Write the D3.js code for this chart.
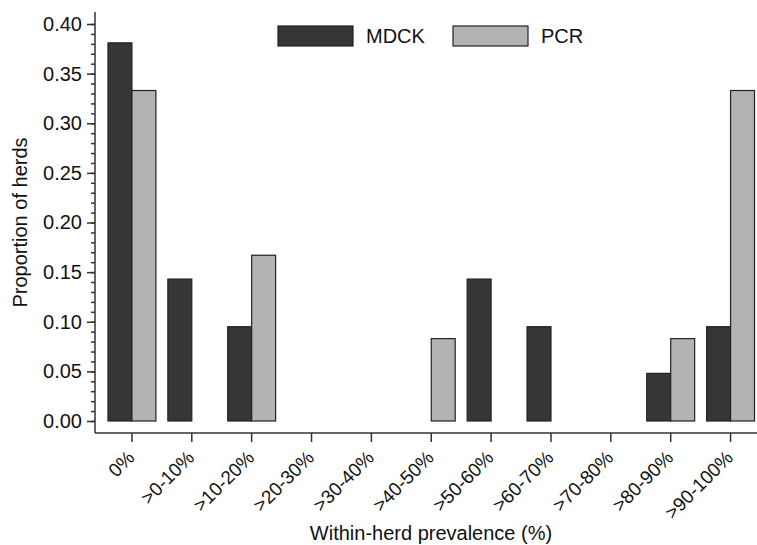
<!DOCTYPE html>
<meta charset="utf-8">
<style>
 body { margin: 0; background: #fff; }
 svg { display: block; background: #fff; }
 text {
   font-family: Arial, "Liberation Sans", sans-serif;
   fill: #111;
 }
 .axis path, .axis line { stroke: #333; stroke-width: 1.5px; }
 .bar { stroke: #222; stroke-width: 1.2px; }
</style>
<svg width="757" height="545"></svg>
<script src="https://d3js.org/d3.v7.min.js"></script>
<script>

 // data
 var categories = ["0%", ">0-10%", ">10-20%", ">20-30%", ">30-40%", ">40-50%",
                   ">50-60%", ">60-70%", ">70-80%", ">80-90%", ">90-100%"];
 var series = ["MDCK", "PCR"];
 var mdck = [0.381, 0.143, 0.095, 0, 0, 0, 0.143, 0.095, 0, 0.048, 0.095];
 var pcr  = [0.333, 0, 0.167, 0, 0, 0.083, 0, 0, 0, 0.083, 0.333];
 var yTicks = [0, 0.05, 0.10, 0.15, 0.20, 0.25, 0.30, 0.35, 0.40];
 var colors = { MDCK: "#363636", PCR: "#b3b3b3" };

 var svg = d3.select("svg"),
     width = +svg.attr("width"),
     height = +svg.attr("height");

 var axisX = 95,        // where the y axis line sits
     axisY = 433;       // where the x axis line sits

 var x = d3.scaleBand()
           .domain(categories)
           .range([102, 760.5])
           .paddingInner(0.2)
           .paddingOuter(0.1);

 var xs = d3.scaleBand()
            .domain(series)
            .range([0, x.bandwidth()]);

 var y = d3.scaleLinear()
           .domain([0, 0.40])
           .range([421, 24]);

 var rows = categories.map(function(c, i) {
   return { cat: c, values: [ { key: "MDCK", v: mdck[i] }, { key: "PCR", v: pcr[i] } ] };
 });

 // bars
 var groups = svg.append("g")
                 .selectAll("g")
                 .data(rows)
                 .enter().append("g")
                 .attr("transform", function(d) { return "translate(" + x(d.cat) + ",0)"; });

 groups.selectAll("rect")
       .data(function(d) { return d.values.filter(function(e) { return e.v > 0; }); })
       .enter().append("rect")
       .attr("class", "bar")
       .attr("x", function(d) { return xs(d.key); })
       .attr("width", xs.bandwidth())
       .attr("y", function(d) { return y(d.v); })
       .attr("height", function(d) { return y(0) - y(d.v); })
       .attr("fill", function(d) { return colors[d.key]; });

 // y axis: minor ticks then major ticks
 svg.append("g")
    .attr("class", "axis")
    .attr("transform", "translate(" + axisX + ",0)")
    .call(d3.axisLeft(y).tickValues(d3.range(0, 0.4001, 0.01)).tickSize(4).tickFormat(""))
    .call(function(g) { g.select(".domain").remove(); });

 var yAxis = svg.append("g")
    .attr("class", "axis")
    .attr("transform", "translate(" + axisX + ",0)")
    .call(d3.axisLeft(y).tickValues(yTicks).tickSize(8).tickPadding(5).tickFormat(d3.format(".2f")));
 yAxis.select(".domain").remove();
 yAxis.selectAll("text").style("font-size", "20px").style("font-family", "Arial, 'Liberation Sans', sans-serif");

 svg.append("line")
    .attr("x1", axisX).attr("x2", axisX)
    .attr("y1", y(0.40) - 12).attr("y2", axisY)
    .attr("stroke", "#333").attr("stroke-width", 1.5);

 // x axis
 var xAxis = svg.append("g")
    .attr("class", "axis")
    .attr("transform", "translate(0," + axisY + ")")
    .call(d3.axisBottom(x).tickSize(9).tickFormat(""));
 xAxis.select(".domain").remove();

 svg.append("line")
    .attr("x1", axisX).attr("x2", width)
    .attr("y1", axisY).attr("y2", axisY)
    .attr("stroke", "#333").attr("stroke-width", 1.5);

 svg.append("g")
    .selectAll("text")
    .data(categories)
    .enter().append("text")
    .attr("transform", function(d) {
      return "translate(" + (x(d) + x.bandwidth() / 2 - 1) + "," + (axisY + 21) + ") rotate(-45)";
    })
    .attr("text-anchor", "end")
    .attr("dy", "0.35em")
    .style("font-size", "19px")
    .text(function(d) { return d; });

 // axis titles
 svg.append("text")
    .attr("x", 431)
    .attr("y", 540)
    .attr("text-anchor", "middle")
    .style("font-size", "20px")
    .text("Within-herd prevalence (%)");

 svg.append("text")
    .attr("transform", "translate(27," + (y(0.2)) + ") rotate(-90)")
    .attr("text-anchor", "middle")
    .style("font-size", "20px")
    .text("Proportion of herds");

 // legend
 var legend = svg.append("g")
                 .selectAll("g")
                 .data(series)
                 .enter().append("g")
                 .attr("transform", function(d, i) { return "translate(" + (278 + i * 175) + ",26)"; });

 legend.append("rect")
       .attr("class", "bar")
       .attr("width", 75)
       .attr("height", 20)
       .attr("fill", function(d) { return colors[d]; });

 legend.append("text")
       .attr("x", 88)
       .attr("y", 10)
       .attr("dy", "0.36em")
       .style("font-size", "20px")
       .text(function(d) { return d; });

</script>
